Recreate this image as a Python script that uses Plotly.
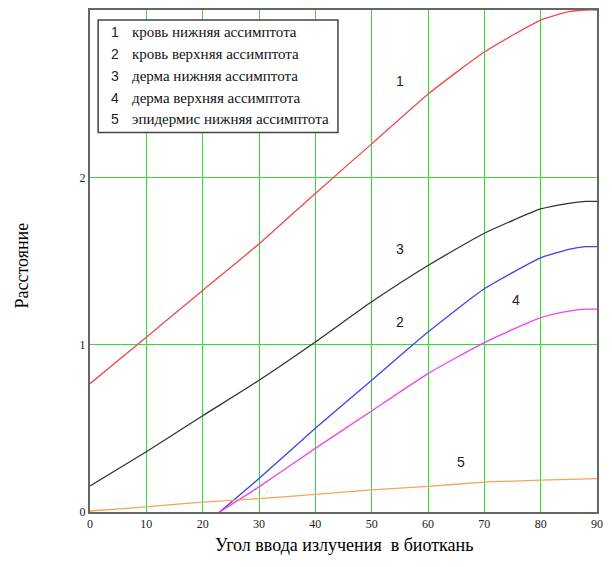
import plotly.graph_objects as go

# Curve 1: кровь нижняя ассимптота (red)
x1 = [0, 10, 20, 30, 40, 50, 60, 70, 80, 85, 88, 90]
y1 = [0.767, 1.045, 1.324, 1.602, 1.904, 2.2, 2.497, 2.749, 2.94, 2.99, 3.0, 3.0]
# Curve 2: кровь верхняя ассимптота (blue)
x2 = [23, 30, 40, 50, 60, 70, 80, 85, 88, 90]
y2 = [0.0, 0.2, 0.5, 0.787, 1.075, 1.334, 1.519, 1.570, 1.586, 1.586]
# Curve 3: дерма нижняя ассимптота (black)
x3 = [0, 10, 20, 30, 40, 50, 60, 70, 80, 85, 88, 90]
y3 = [0.155, 0.36, 0.575, 0.787, 1.016, 1.256, 1.473, 1.666, 1.811, 1.845, 1.856, 1.856]
# Curve 4: дерма верхняя ассимптота (magenta)
x4 = [23, 30, 40, 50, 60, 70, 80, 85, 88, 90]
y4 = [0.0, 0.15, 0.38, 0.604, 0.827, 1.012, 1.161, 1.2, 1.212, 1.212]
# Curve 5: эпидермис нижняя ассимптота (orange)
x5 = [0, 10, 20, 30, 40, 50, 60, 70, 80, 90]
y5 = [0.006, 0.031, 0.059, 0.08, 0.105, 0.132, 0.153, 0.178, 0.19, 0.2]

legend_numbers = ["1", "2", "3", "4", "5"]
legend_labels = [
    "кровь нижняя ассимптота",
    "кровь верхняя ассимптота",
    "дерма нижняя ассимптота",
    "дерма верхняя ассимптота",
    "эпидермис нижняя ассимптота",
]
curve_label_x = [55.0, 55.0, 55.0, 75.6, 65.8]
curve_label_y = [2.576, 1.133, 1.574, 1.264, 0.298]

x_ticks = [0, 10, 20, 30, 40, 50, 60, 70, 80, 90]
y_ticks = [0, 1, 2]

colors = ["#f04848", "#4040f0", "#333333", "#ee44ee", "#f5a55a"]
series = [(x1, y1), (x2, y2), (x3, y3), (x4, y4), (x5, y5)]

fig = go.Figure()
for (xs, ys), c in zip(series, colors):
    fig.add_trace(go.Scatter(x=xs, y=ys, mode="lines",
                             line=dict(color=c, width=1.3, shape="spline", smoothing=0.5),
                             showlegend=False, hoverinfo="skip"))

annotations = []
for t, xv, yv in zip(legend_numbers, curve_label_x, curve_label_y):
    annotations.append(dict(x=xv, y=yv, xref="x", yref="y", text=t, showarrow=False,
                            font=dict(family="Liberation Sans", size=14, color="#222")))

row_y = [0.956, 0.912, 0.869, 0.824, 0.782]
for n, lab, ry in zip(legend_numbers, legend_labels, row_y):
    annotations.append(dict(x=0.049, y=ry, xref="paper", yref="paper", text=n,
                            showarrow=False, xanchor="center", yanchor="middle",
                            font=dict(family="Liberation Sans", size=14, color="#222")))
    annotations.append(dict(x=0.079, y=ry, xref="paper", yref="paper", text=lab,
                            showarrow=False, xanchor="left", yanchor="middle",
                            font=dict(family="Liberation Serif", size=15, color="#111")))

annotations.append(dict(x=0.5, y=-0.066, xref="paper", yref="paper",
                        text="Угол ввода излучения  в биоткань", showarrow=False,
                        xanchor="center", yanchor="middle",
                        font=dict(family="Liberation Serif", size=18, color="#000")))
annotations.append(dict(x=-0.135, y=0.49, xref="paper", yref="paper",
                        text="Расстояние", showarrow=False, textangle=-90,
                        xanchor="center", yanchor="middle",
                        font=dict(family="Liberation Serif", size=18, color="#000")))

fig.update_layout(
    width=604, height=559,
    margin=dict(l=82, r=15, t=0, b=55),
    plot_bgcolor="white", paper_bgcolor="white",
    annotations=annotations,
    shapes=[dict(type="rect", xref="paper", yref="paper", x0=0.016, x1=0.489,
                 y0=0.756, y1=0.980, line=dict(color="#444", width=1.5),
                 fillcolor="white", layer="above")],
)
fig.update_xaxes(range=[0, 90], tickvals=x_ticks, ticktext=[str(v) for v in x_ticks],
                 showgrid=True, gridcolor="#33dd33", gridwidth=1, zeroline=False,
                 showline=True, mirror=True, linecolor="#666", linewidth=2,
                 ticks="", tickfont=dict(family="Liberation Serif", size=12, color="#222"))
fig.update_yaxes(range=[0, 3], tickvals=y_ticks, ticktext=[str(v) for v in y_ticks],
                 showgrid=True, gridcolor="#33dd33", gridwidth=1, zeroline=False,
                 showline=True, mirror=True, linecolor="#666", linewidth=2,
                 ticks="", tickfont=dict(family="Liberation Serif", size=12, color="#222"))

fig.write_html("out.html")
